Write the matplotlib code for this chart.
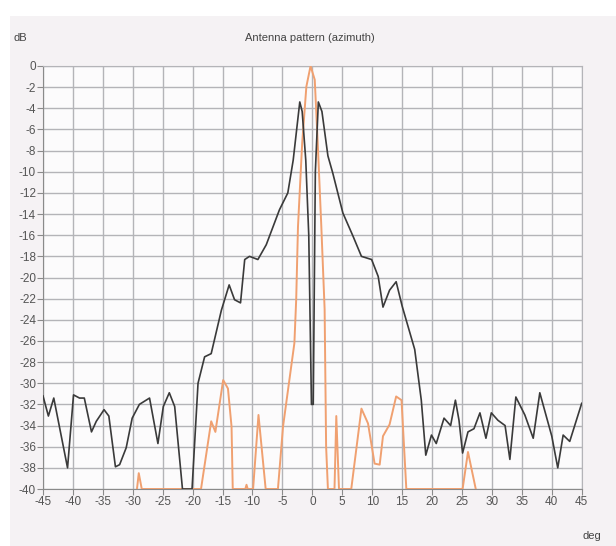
import matplotlib
matplotlib.use("Agg")
import matplotlib.pyplot as plt
from matplotlib.patches import Rectangle

# black trace (deg, dB)
az_black = [-45, -44.1, -43.2, -40.9, -39.9, -38.9, -38.1, -36.9, -36.1, -34.8, -34.0,
            -32.9, -32.2, -31.1, -30.1, -28.9, -27.2, -25.8, -24.9, -23.9, -23.0,
            -21.7, -20.1, -19.1, -18.0, -16.9, -15.2, -13.9, -13.0, -12.0, -11.3,
            -10.5, -9.1, -7.7, -5.5, -4.1, -3.2, -2.1, -1.7, -1.1, -0.6, -0.15,
            0.15, 0.5, 1.0, 1.6, 2.6, 3.4, 5.1, 6.8, 8.2, 9.9, 11.0, 11.8, 12.9,
            14.0, 15.0, 17.1, 18.2, 18.95, 19.9, 20.7, 22.0, 23.1, 23.9, 24.5,
            25.1, 26.0, 27.0, 28.0, 29.0, 29.9, 31.0, 32.2, 33.0, 34.0, 35.5,
            36.9, 38.0, 40.0, 41.0, 41.9, 43.0, 45.0]
db_black = [-31.2, -33.1, -31.4, -38.0, -31.1, -31.4, -31.4, -34.6, -33.6, -32.5, -33.1,
            -37.9, -37.7, -36.1, -33.3, -32.0, -31.4, -35.7, -32.2, -30.9, -32.2,
            -40.0, -40.0, -30.0, -27.5, -27.2, -23.1, -20.7, -22.1, -22.4, -18.3,
            -18.0, -18.3, -16.9, -13.6, -12.0, -8.9, -3.4, -4.3, -8.9, -16.0, -32.0,
            -32.0, -10.0, -3.4, -4.3, -8.5, -10.1, -13.9, -16.1, -18.0, -18.3, -19.9,
            -22.8, -21.2, -20.4, -22.7, -26.8, -31.6, -36.8, -34.9, -35.7, -33.3,
            -34.0, -31.6, -33.5, -36.6, -34.6, -34.3, -32.8, -35.2, -32.8, -33.5,
            -34.0, -37.2, -31.3, -33.0, -35.2, -30.9, -35.0, -38.0, -34.9, -35.5,
            -31.9]

# orange trace (deg, dB)
az_orange = [-29.3, -29.0, -28.5, -18.6, -16.9, -16.2, -14.9, -14.1, -13.5, -13.3,
             -11.2, -11.0, -10.8, -9.9, -9.0, -7.8, -5.75, -4.9, -3.0, -2.7, -2.4,
             -1.7, -1.0, -0.3, 0.4, 0.9, 1.5, 2.05, 2.3, 2.6, 3.7, 4.0, 4.45, 6.5,
             8.2, 9.3, 10.4, 11.25, 11.8, 12.9, 14.0, 14.9, 15.7, 25.1, 26.0, 27.3]
db_orange = [-40.0, -38.5, -40.0, -40.0, -33.6, -34.6, -29.7, -30.5, -34.1, -40.0,
             -40.0, -39.6, -40.0, -40.0, -33.0, -40.0, -40.0, -34.1, -26.2, -22.1, -15.2,
             -7.3, -1.95, 0.0, -1.3, -7.3, -15.2, -23.0, -36.0, -40.0, -40.0, -33.1, -40.0,
             -40.0, -32.4, -33.8, -37.6, -37.7, -35.0, -33.9, -31.25, -31.6, -40.0,
             -40.0, -36.5, -40.0]

x_ticks = list(range(-45, 50, 5))
y_ticks = list(range(-40, 2, 2))

fig = plt.figure(figsize=(6.16, 5.46), dpi=100, facecolor="white")
fig.patches.append(Rectangle((10 / 616, 0), 1, 1 - 16 / 546, transform=fig.transFigure,
                             facecolor="#f5f2f4", edgecolor="none", zorder=-10))

ax = fig.add_axes([43 / 616, 1 - 489 / 546, 538.7 / 616, 423 / 546])
ax.set_facecolor("#fcfbfc")

ax.plot(az_orange, db_orange, color="#f0a070", lw=1.4, zorder=3)
ax.plot(az_black, db_black, color="#3a3a3a", lw=1.2, zorder=4)

ax.set_xlim(-45, 45)
ax.set_ylim(-40, 0)
ax.set_xticks(x_ticks)
ax.set_yticks(y_ticks)
ax.set_xticklabels([str(v) for v in x_ticks])
ax.set_yticklabels([str(v) for v in y_ticks])
ax.grid(True, color="#b4b4b8", lw=1.0)
ax.set_axisbelow(True)
for s in ax.spines.values():
    s.set_color("#b4b4b8")
ax.spines["left"].set_color("#8a8a8a")
ax.spines["bottom"].set_color("#8a8a8a")
ax.tick_params(colors="#8a8a8a", length=4, width=0.8, labelsize=8.5,
               labelcolor="#555555", pad=1)
for lab in ax.get_xticklabels() + ax.get_yticklabels():
    lab.set_fontfamily("Liberation Sans")

fig.text(310 / 616, 1 - 38 / 546, "Antenna pattern (azimuth)", ha="center", va="center",
         fontsize=8, color="#444444", family="Liberation Sans")
fig.text(14 / 616, 1 - 38 / 546, "dB", ha="left", va="center",
         fontsize=8, color="#444444", family="Liberation Sans")
fig.text(592 / 616, 1 - 536 / 546, "deg", ha="center", va="center",
         fontsize=8, color="#444444", family="Liberation Sans")

fig.savefig("out.png", dpi=100, facecolor=fig.get_facecolor())
